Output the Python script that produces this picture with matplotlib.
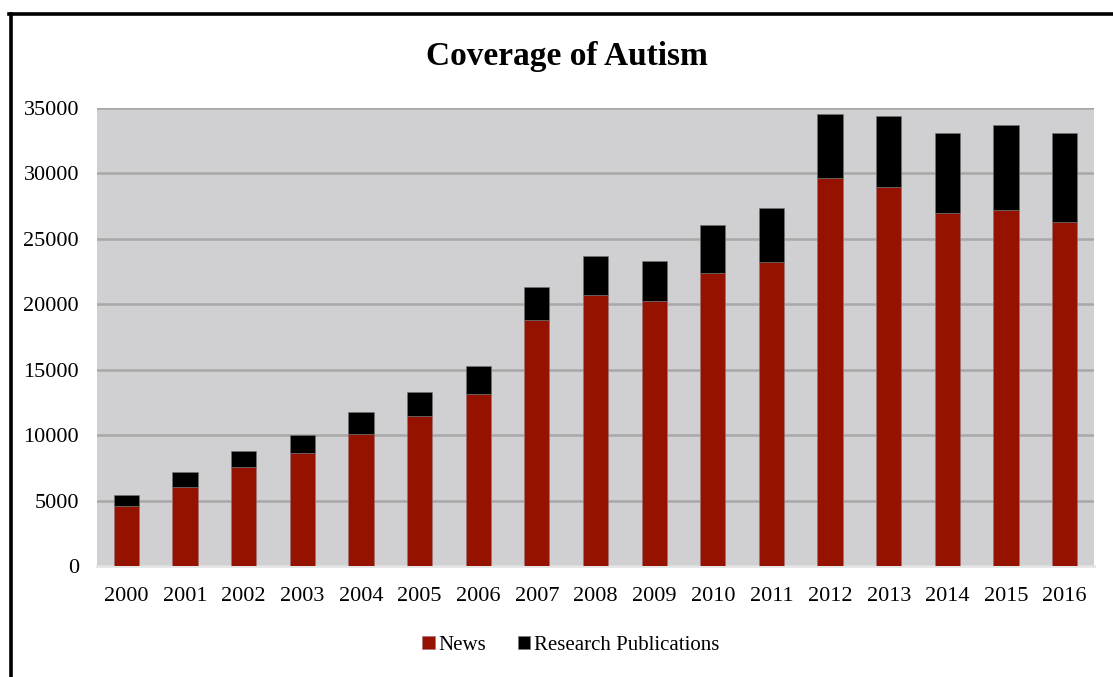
import numpy as np
import matplotlib.pyplot as plt
from matplotlib.lines import Line2D

years = ['2000', '2001', '2002', '2003', '2004', '2005', '2006', '2007', '2008',
         '2009', '2010', '2011', '2012', '2013', '2014', '2015', '2016']
news = [4590, 6060, 7570, 8620, 10090, 11490, 13150, 18785, 20695,
        20260, 22375, 23240, 29640, 28950, 27010, 27195, 26320]
research = [860, 1125, 1200, 1400, 1660, 1835, 2115, 2520, 2980,
            3080, 3670, 4105, 4895, 5430, 6115, 6495, 6805]

plt.rcParams['font.family'] = ['Liberation Serif', 'DejaVu Serif']

fig = plt.figure(figsize=(11.13, 6.77), dpi=100)
ax = fig.add_axes([97/1113, 1-566/677, (1094-97)/1113, (566-108)/677])
ax.set_facecolor('#d0cfd1')

x = np.arange(len(years))
ax.bar(x, news, width=0.43, color='#961200', edgecolor='#a0707a', linewidth=0.4,
       label='News', zorder=3)
ax.bar(x, research, width=0.43, bottom=news, color='black', edgecolor='#777777',
       linewidth=0.4, label='Research Publications', zorder=3)

ax.set_xlim(-0.5, len(years) - 0.5)
ax.set_ylim(0, 35000)
ax.set_yticks(range(0, 35001, 5000))
ax.set_xticks(x)
ax.set_xticklabels(years)
ax.yaxis.grid(True, color='#a9a8a9', linewidth=1.8, zorder=1)
ax.set_axisbelow(True)
for s in ['left', 'right', 'top']:
    ax.spines[s].set_visible(False)
ax.spines['bottom'].set_color('#e4e4e4')
ax.spines['bottom'].set_linewidth(2)
ax.tick_params(axis='both', length=0, labelsize=16)
ax.tick_params(axis='y', pad=13)
ax.tick_params(axis='x', pad=15)

fig.text(567/1113, 1-56/677, 'Coverage of Autism', ha='center', va='center',
         fontsize=24, fontweight='bold')

fig.legend(loc='center', bbox_to_anchor=(571/1113, 1-645/677), ncol=2, frameon=False,
           fontsize=15, handlelength=0.6, handleheight=0.6, handletextpad=0.2,
           columnspacing=1.5)

# outer frame (only left and top edges visible)
fig.add_artist(Line2D([10.5/1113, 10.5/1113], [0, 1-13.5/677], color='black',
                      linewidth=2.6, transform=fig.transFigure))
fig.add_artist(Line2D([9.2/1113, 1], [1-13.5/677, 1-13.5/677], color='black',
                      linewidth=2.6, transform=fig.transFigure))

plt.savefig('out.png', dpi=100)
